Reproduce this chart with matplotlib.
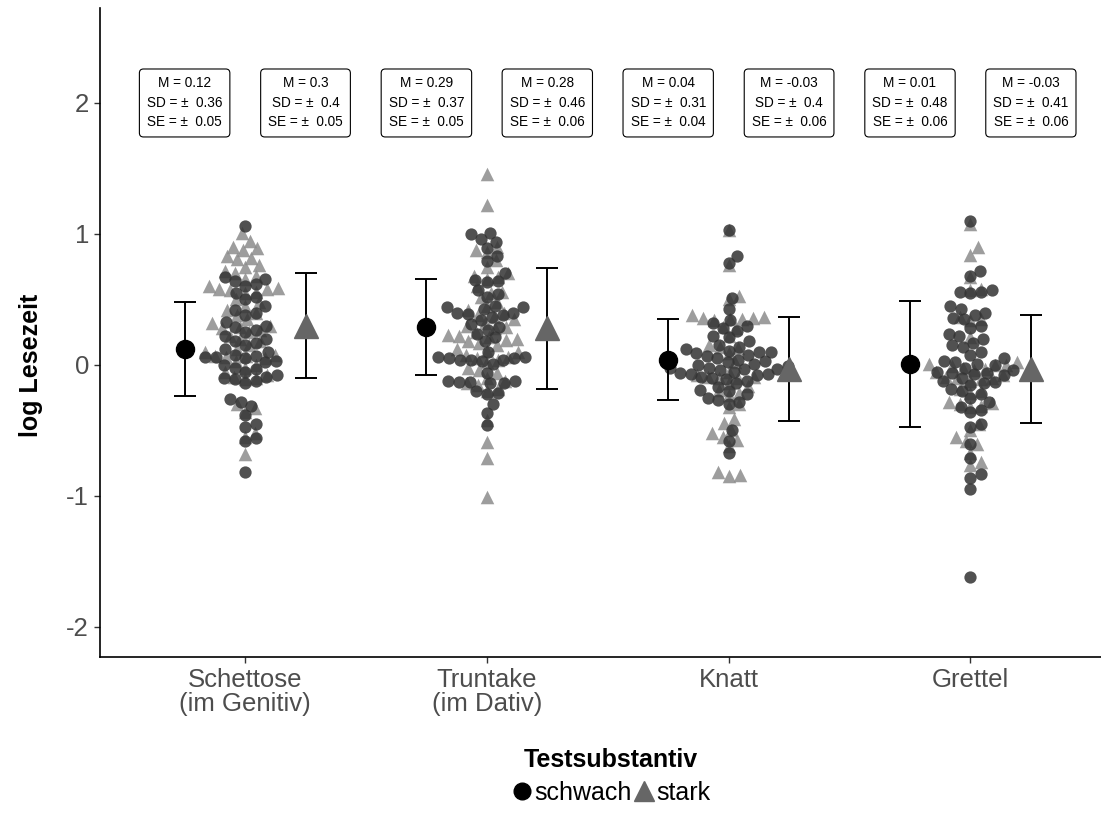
import numpy as np
import matplotlib.pyplot as plt
from matplotlib.lines import Line2D

plt.rcParams['font.family'] = ['Liberation Sans', 'DejaVu Sans']

# Kategorien und Gruppen
categories = ['Schettose\n(im Genitiv)', 'Truntake\n(im Dativ)', 'Knatt', 'Grettel']
groups = ['schwach', 'stark']

# log Lesezeit, schwach (Kreise)
schettose_schwach = [1.06, 0.67, 0.66, 0.64, 0.62, 0.60, 0.55, 0.52, 0.50, 0.45, 0.42, 0.40, 0.38,
                     0.33, 0.30, 0.29, 0.27, 0.25, 0.22, 0.20, 0.18, 0.17, 0.15, 0.12, 0.10, 0.08,
                     0.07, 0.06, 0.06, 0.05, 0.03, 0.02, 0.0, -0.02, -0.03, -0.05, -0.08, -0.09,
                     -0.10, -0.11, -0.12, -0.14, -0.26, -0.28, -0.31, -0.38, -0.45, -0.47, -0.56,
                     -0.58, -0.82]
truntake_schwach = [1.01, 1.00, 0.96, 0.94, 0.89, 0.83, 0.79, 0.70, 0.65, 0.64, 0.63, 0.57, 0.54,
                    0.52, 0.45, 0.44, 0.44, 0.43, 0.40, 0.40, 0.39, 0.38, 0.37, 0.34, 0.31, 0.29,
                    0.27, 0.24, 0.21, 0.18, 0.10, 0.06, 0.06, 0.05, 0.05, 0.04, 0.04, 0.04, 0.03,
                    0.01, -0.06, -0.12, -0.12, -0.13, -0.13, -0.14, -0.14, -0.20, -0.21, -0.22,
                    -0.30, -0.37, -0.46]
knatt_schwach = [1.03, 0.83, 0.78, 0.51, 0.43, 0.34, 0.32, 0.30, 0.28, 0.26, 0.22, 0.21, 0.18,
                 0.15, 0.14, 0.12, 0.11, 0.10, 0.10, 0.09, 0.08, 0.07, 0.05, 0.04, 0.03, 0.02,
                 0.01, 0.0, -0.01, -0.02, -0.02, -0.03, -0.03, -0.04, -0.05, -0.06, -0.07, -0.07,
                 -0.08, -0.09, -0.10, -0.11, -0.12, -0.14, -0.17, -0.19, -0.20, -0.22, -0.25,
                 -0.27, -0.28, -0.30, -0.50, -0.58, -0.67]
grettel_schwach = [1.10, 0.72, 0.68, 0.57, 0.56, 0.56, 0.55, 0.45, 0.43, 0.40, 0.38, 0.36, 0.35,
                   0.30, 0.28, 0.24, 0.22, 0.20, 0.17, 0.15, 0.14, 0.10, 0.08, 0.05, 0.03, 0.02,
                   0.01, 0.0, -0.02, -0.04, -0.05, -0.06, -0.06, -0.07, -0.08, -0.10, -0.12, -0.13,
                   -0.14, -0.15, -0.18, -0.20, -0.22, -0.25, -0.28, -0.32, -0.34, -0.36, -0.45,
                   -0.47, -0.60, -0.71, -0.83, -0.86, -0.95, -1.62]

# log Lesezeit, stark (Dreiecke)
schettose_stark = [1.01, 0.95, 0.90, 0.89, 0.88, 0.83, 0.82, 0.81, 0.76, 0.75, 0.72, 0.70, 0.68,
                   0.66, 0.60, 0.59, 0.58, 0.58, 0.57, 0.56, 0.55, 0.50, 0.48, 0.45, 0.42, 0.40,
                   0.38, 0.35, 0.32, 0.30, 0.29, 0.28, 0.27, 0.25, 0.22, 0.20, 0.18, 0.15, 0.12,
                   0.10, 0.08, 0.07, 0.07, 0.06, 0.05, 0.03, 0.0, -0.02, -0.05, -0.08, -0.09,
                   -0.10, -0.11, -0.30, -0.33, -0.36, -0.52, -0.55, -0.68]
truntake_stark = [1.46, 1.22, 0.90, 0.88, 0.86, 0.80, 0.75, 0.70, 0.68, 0.67, 0.66, 0.60, 0.56,
                  0.55, 0.52, 0.48, 0.45, 0.42, 0.40, 0.38, 0.37, 0.35, 0.32, 0.30, 0.29, 0.28,
                  0.25, 0.23, 0.22, 0.21, 0.20, 0.19, 0.18, 0.17, 0.15, 0.12, 0.11, 0.10, 0.08,
                  0.06, 0.05, 0.04, 0.02, -0.02, -0.04, -0.06, -0.10, -0.12, -0.14, -0.15, -0.18,
                  -0.20, -0.42, -0.59, -0.71, -1.01]
knatt_stark = [1.03, 0.76, 0.53, 0.50, 0.38, 0.37, 0.36, 0.36, 0.35, 0.35, 0.34, 0.29, 0.28, 0.22,
               0.15, 0.14, 0.13, 0.09, 0.02, -0.05, -0.08, -0.09, -0.09, -0.10, -0.10, -0.14,
               -0.16, -0.19, -0.21, -0.23, -0.30, -0.32, -0.41, -0.44, -0.50, -0.52, -0.55,
               -0.57, -0.62, -0.82, -0.84, -0.85]
grettel_stark = [1.08, 0.90, 0.84, 0.67, 0.58, 0.57, 0.37, 0.35, 0.34, 0.21, 0.02, 0.01, 0.0, 0.0,
                 -0.01, -0.02, -0.03, -0.04, -0.05, -0.08, -0.09, -0.10, -0.10, -0.11, -0.12,
                 -0.18, -0.20, -0.21, -0.28, -0.29, -0.30, -0.31, -0.32, -0.45, -0.50, -0.55,
                 -0.58, -0.60, -0.67, -0.74, -0.76]

schwach_vals = [schettose_schwach, truntake_schwach, knatt_schwach, grettel_schwach]
stark_vals = [schettose_stark, truntake_stark, knatt_stark, grettel_stark]

# Kennwerte (aus den Beschriftungen)
mean_schwach = [0.12, 0.29, 0.04, 0.01]
sd_schwach = [0.36, 0.37, 0.31, 0.48]
se_schwach = [0.05, 0.05, 0.04, 0.06]
mean_stark = [0.3, 0.28, -0.03, -0.03]
sd_stark = [0.4, 0.46, 0.4, 0.41]
se_stark = [0.05, 0.06, 0.06, 0.06]


def swarm_x(values, ax, x0, diam):
    # einfacher Beeswarm in Pixelkoordinaten
    ys = ax.transData.transform(np.column_stack([np.full(len(values), x0), values]))[:, 1]
    xs = np.zeros(len(values))
    px, py = [], []
    for i in np.argsort(ys):
        y = ys[i]
        cands = [0.0]
        for a, b in zip(px, py):
            dy = y - b
            if abs(dy) < diam:
                dx = np.sqrt(diam ** 2 - dy ** 2)
                cands += [a + dx, a - dx]
        best = 0.0
        for c in sorted(cands, key=abs):
            if all((c - a) ** 2 + (y - b) ** 2 >= diam ** 2 - 1e-6 for a, b in zip(px, py)):
                best = c
                break
        px.append(best)
        py.append(y)
        xs[i] = best
    unit = ax.transData.transform((1, 0))[0] - ax.transData.transform((0, 0))[0]
    return x0 + xs / unit


fig = plt.figure(figsize=(11.01, 8.24), dpi=100)
ax = fig.add_axes([100 / 1101, 1 - 657 / 824, 1001 / 1101, 649 / 824])
ax.set_xlim(0.4, 4.54)
ax.set_ylim(-2.229, 2.725)

pos = np.arange(1, len(categories) + 1)
dodge = 0.25

for i, p in enumerate(pos):
    ax.scatter(swarm_x(stark_vals[i], ax, p, 11), stark_vals[i], marker='^', s=95,
               color='#8c8c8c', alpha=0.85, linewidths=0, zorder=2)
    ax.scatter(swarm_x(schwach_vals[i], ax, p, 11), schwach_vals[i], marker='o', s=78,
               color='#333333', alpha=0.85, linewidths=0, zorder=3)

# Mittelwerte mit SD
ax.errorbar(pos - dodge, mean_schwach, yerr=sd_schwach, fmt='o', color='black', ms=13,
            ecolor='black', elinewidth=1.4, capsize=8, capthick=1.4, zorder=4)
ax.errorbar(pos + dodge, mean_stark, yerr=sd_stark, fmt='^', color='#666666', ms=17,
            ecolor='black', elinewidth=1.4, capsize=8, capthick=1.4, zorder=4)

# Beschriftungen
for i, p in enumerate(pos):
    for x, m, sd, se in [(p - dodge, mean_schwach[i], sd_schwach[i], se_schwach[i]),
                         (p + dodge, mean_stark[i], sd_stark[i], se_stark[i])]:
        ax.text(x, 2.0, f"M = {m:g}\nSD = \u00b1  {sd:g}\nSE = \u00b1  {se:g}",
                ha='center', va='center', fontsize=9.8, linespacing=1.5,
                bbox=dict(boxstyle='round,pad=0.55,rounding_size=0.3', fc='white',
                          ec='black', lw=0.8))

ax.set_xticks(pos)
ax.set_xticklabels(categories, fontsize=18.5, color='#4d4d4d', linespacing=1.0)
ax.set_yticks([-2, -1, 0, 1, 2])
ax.set_yticklabels(['-2', '-1', '0', '1', '2'], fontsize=18.5, color='#4d4d4d')
ax.tick_params(length=4, color='#333333', width=1, pad=4)
ax.spines['top'].set_visible(False)
ax.spines['right'].set_visible(False)
ax.spines['left'].set_linewidth(1.2)
ax.spines['bottom'].set_linewidth(1.2)

fig.text(31 / 1101, 1 - 365 / 824, 'log Lesezeit', rotation=90, ha='center', va='center',
         fontsize=18, fontweight='bold')
fig.text(611 / 1101, 1 - 760 / 824, 'Testsubstantiv', ha='center', va='center',
         fontsize=18, fontweight='bold')

handles = [Line2D([], [], marker='o', color='black', ls='', ms=12),
           Line2D([], [], marker='^', color='#666666', ls='', ms=15)]
fig.legend(handles, groups, loc='center', bbox_to_anchor=(610 / 1101, 1 - 793 / 824), ncol=2,
           frameon=False, fontsize=18, handletextpad=0.0, columnspacing=0.0,
           handlelength=1.0)

fig.savefig('out.png', dpi=100)
